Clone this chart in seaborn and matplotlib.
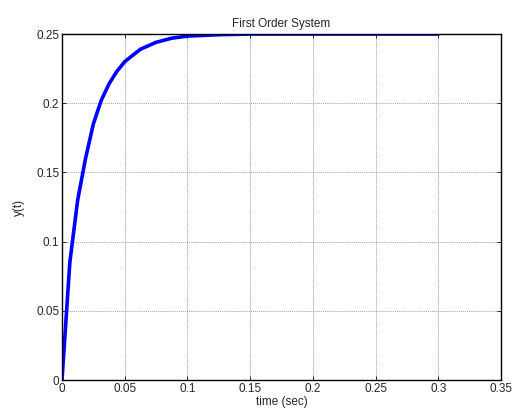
import numpy as np
import pandas as pd
import seaborn as sns
import matplotlib.pyplot as plt

# Step response values
time_sec = [0, 0.00625, 0.0125, 0.01875, 0.025, 0.03125, 0.0375, 0.04375, 0.05,
            0.0625, 0.075, 0.0875, 0.1, 0.1125, 0.125, 0.15, 0.2, 0.25, 0.3]
y_t = [0, 0.085, 0.130, 0.160, 0.185, 0.202, 0.214, 0.223, 0.230,
       0.239, 0.244, 0.247, 0.2485, 0.249, 0.2495, 0.25, 0.25, 0.25, 0.25]

x_ticks = [0, 0.05, 0.1, 0.15, 0.2, 0.25, 0.3, 0.35]
x_tick_labels = ['0', '0.05', '0.1', '0.15', '0.2', '0.25', '0.3', '0.35']
y_ticks = [0, 0.05, 0.1, 0.15, 0.2, 0.25]
y_tick_labels = ['0', '0.05', '0.1', '0.15', '0.2', '0.25']

sns.set_style('ticks')
plt.rcParams['font.family'] = ['Liberation Sans', 'DejaVu Sans']

df = pd.DataFrame({'t': time_sec, 'y': y_t})

fig = plt.figure(figsize=(5.14, 4.15), dpi=100)
ax = fig.add_axes([0.1206, 0.0843, 0.8541, 0.8337])
sns.lineplot(data=df, x='t', y='y', ax=ax, color='#0000ff', linewidth=2.6)

ax.set_xlim(0, 0.35)
ax.set_ylim(0, 0.25)
ax.set_xticks(x_ticks)
ax.set_xticklabels(x_tick_labels)
ax.set_yticks(y_ticks)
ax.set_yticklabels(y_tick_labels)
# matlab-style fine dotted grid
ax.grid(True, color='#a0a0a0', linestyle=(0, (1, 1)), linewidth=0.7)
ax.tick_params(direction='in', top=True, right=True, labelsize=8.5,
               length=3, width=0.7, pad=2)
for s in ax.spines.values():
    s.set_visible(True)
    s.set_linewidth(1.0)
    s.set_color('black')

ax.set_xlabel('time (sec)', fontsize=8.5, labelpad=1)
ax.set_ylabel('y(t)', fontsize=8.5, labelpad=8)
ax.set_title('First Order System', fontsize=8.5, pad=5)

fig.savefig('out.png', dpi=100)
